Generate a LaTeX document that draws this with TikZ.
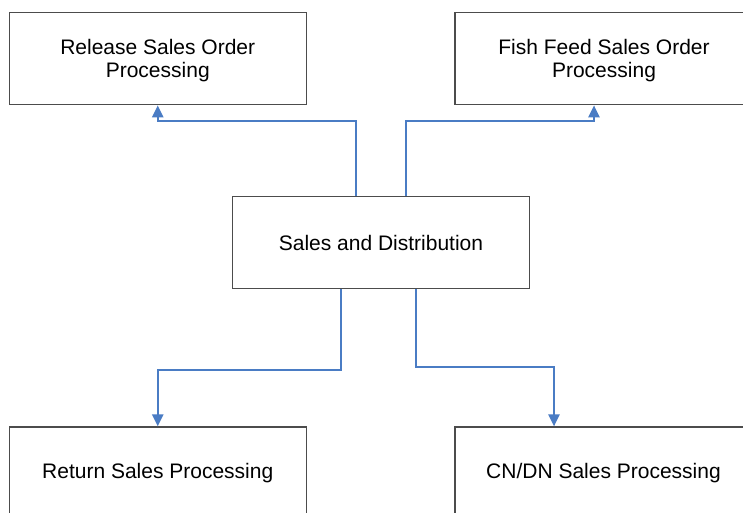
\documentclass[tikz,border=0pt]{standalone}
\usepackage{fontspec}
\setmainfont{Liberation Sans}
\usetikzlibrary{arrows.meta}
\definecolor{linkblue}{HTML}{4A7CC4}
\definecolor{boxline}{gray}{0.3}
\tikzset{
  module/.style={draw=boxline, line width=1.2pt, rectangle, inner sep=0pt,
    minimum width=297pt, minimum height=92pt, align=center,
    font=\fontsize{21}{23}\selectfont},
  label/.style={align=center, font=\fontsize{21}{23}\selectfont, inner sep=0pt},
  link/.style={draw=linkblue, line width=2.2pt,
    -{Triangle[width=11pt,length=12pt]}}
}
\begin{document}
\begin{tikzpicture}[x=1pt,y=-1pt]
  \clip (0,0) rectangle (743,513);
  \useasboundingbox (0,0) rectangle (743,513);
  \fill[white] (0,0) rectangle (743,513);

  % modules
  \node[module] (rel)  at (157.75,58.75) {};
  \node[module] (fish) at (603.5,58.75)  {};
  \node[module] (sd)   at (381,242.5)    {Sales and Distribution};
  \node[module] (ret)  at (157.75,473)   {Return Sales Processing};
  \node[module] (cn)   at (603.5,473)    {CN/DN Sales Processing};
  \node[label] at ([yshift=-1.5pt]rel.center) {Release Sales Order\\Processing};
  \node[label] at ([yshift=-1.5pt,xshift=0.5pt]fish.center) {Fish Feed Sales Order\\Processing};

  % links from the central module
  \draw[link] ([xshift=-25pt]sd.north) -- ++(0,-75) -| (rel.south);
  \draw[link] ([xshift=25pt]sd.north) -- ++(0,-75) -| ([xshift=-9.5pt]fish.south);
  \draw[link] ([xshift=-40pt]sd.south) -- ++(0,81) -| (ret.north);
  \draw[link] ([xshift=35pt]sd.south) -- ++(0,78) -| ([xshift=-49.5pt]cn.north);
\end{tikzpicture}
\end{document}
